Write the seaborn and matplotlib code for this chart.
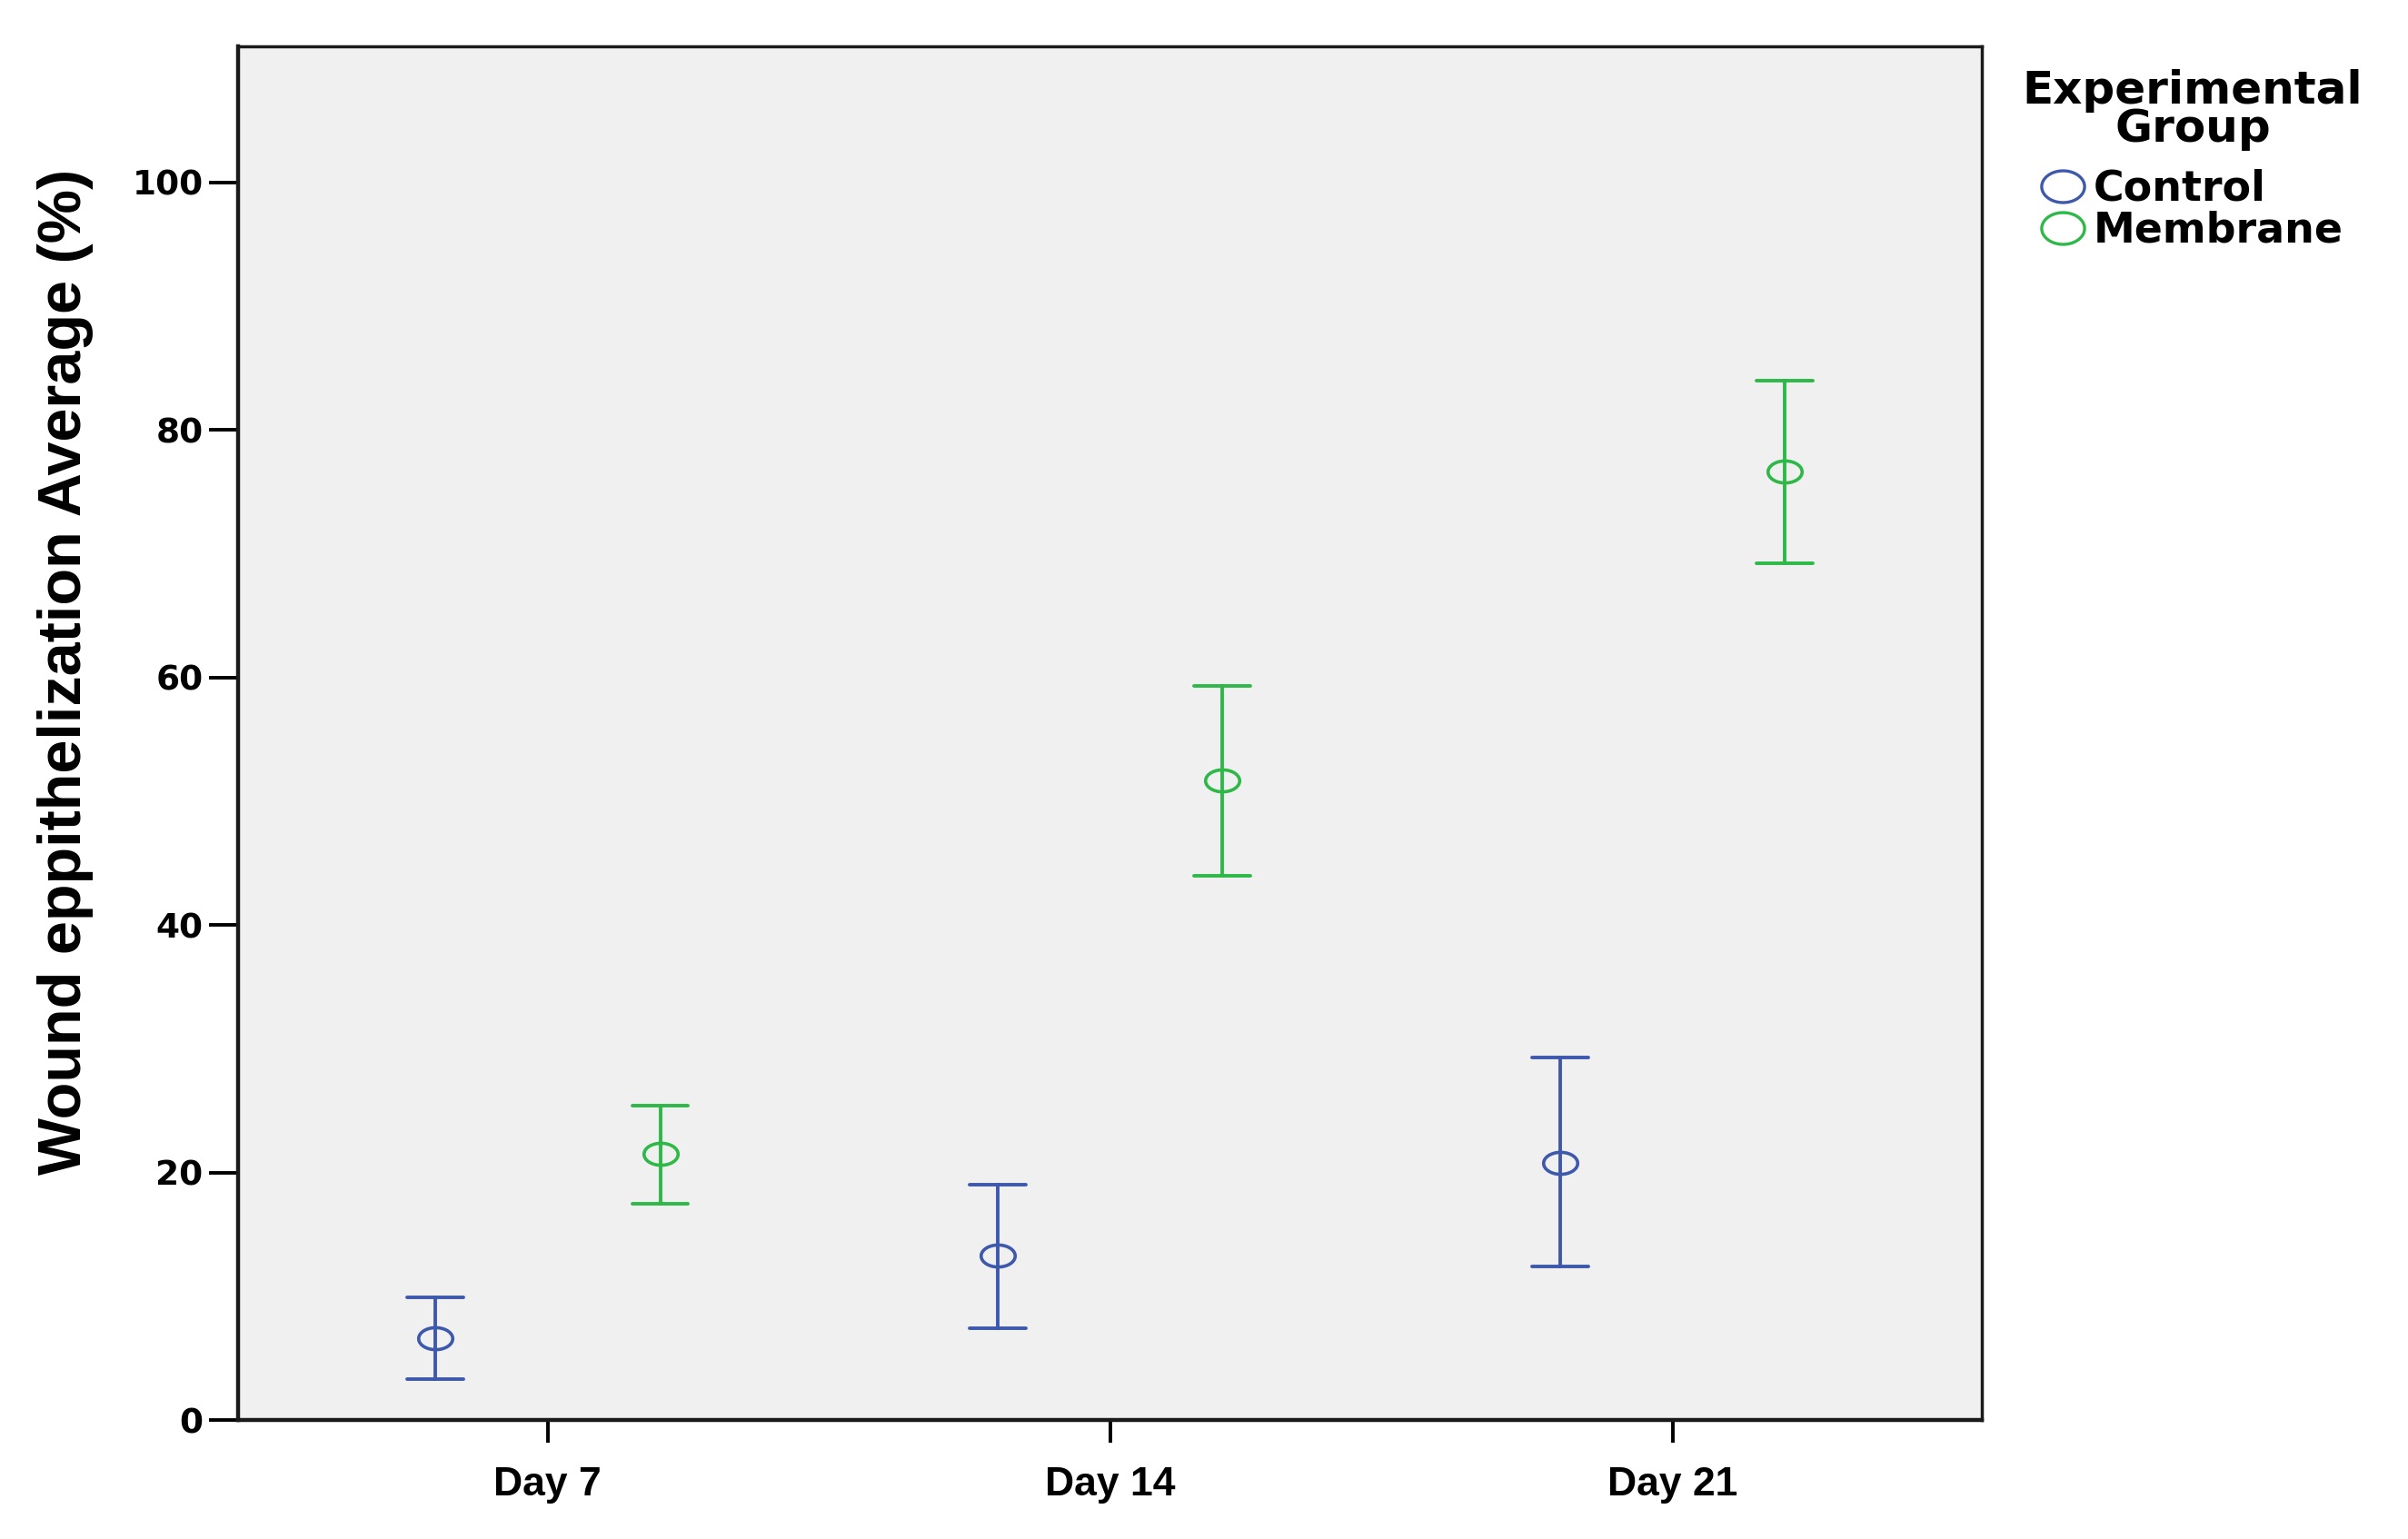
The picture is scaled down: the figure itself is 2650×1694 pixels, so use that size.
import numpy as np
import pandas as pd
import seaborn as sns
import matplotlib.pyplot as plt
from matplotlib.path import Path
from matplotlib.lines import Line2D

days = ["Day 7", "Day 14", "Day 21"]
groups = ["Control", "Membrane"]

control_mean = [6.6, 13.3, 20.8]
control_low = [3.3, 7.4, 12.4]
control_high = [9.9, 19.0, 29.3]

membrane_mean = [21.5, 51.7, 76.6]
membrane_low = [17.5, 44.0, 69.2]
membrane_high = [25.4, 59.3, 84.0]

COLORS = {"Control": "#3E58AC", "Membrane": "#2EB848"}


def ellipse_marker(ratio):
    t = np.linspace(0, 2 * np.pi, 60)
    return Path(np.column_stack([ratio * np.cos(t), np.sin(t)]), closed=True)


# long form: low / mean / high per cell, median picks the mean
rows = []
for g, m, lo, hi in [("Control", control_mean, control_low, control_high),
                     ("Membrane", membrane_mean, membrane_low, membrane_high)]:
    for d, a, b, c in zip(days, m, lo, hi):
        for v in (b, a, c):
            rows.append({"Day": d, "Group": g, "Value": v})
df = pd.DataFrame(rows)

sns.set_style("ticks")
plt.rcParams["font.family"] = ["DejaVu Sans"]
plt.rcParams["text.color"] = "black"
plt.rcParams["axes.labelcolor"] = "black"
plt.rcParams["xtick.color"] = "black"
plt.rcParams["ytick.color"] = "black"

fig = plt.figure(figsize=(26.5, 16.94), dpi=100)
ax = fig.add_axes([0.099, 0.0773, 0.724, 0.8927])
ax.set_facecolor("#F0F0F0")

sns.pointplot(
    data=df, x="Day", y="Value", hue="Group", order=days, hue_order=groups,
    estimator=np.median, errorbar=lambda v: (v.min(), v.max()),
    palette=COLORS, dodge=0.4, linestyle="none", capsize=0.1,
    err_kws={"linewidth": 2.8}, markers=ellipse_marker(1.55),
    markersize=27, markerfacecolor="none", markeredgewidth=2.6,
    legend=False, ax=ax,
)

ax.set_xlim(-0.55, 2.55)
ax.set_ylim(0, 111)
ax.set_yticks([0, 20, 40, 60, 80, 100])
ax.set_xlabel("")
ax.set_ylabel("Wound eppithelization Average (%)", fontsize=48,
              fontweight="bold", family=["Liberation Sans"])
ax.yaxis.set_label_coords(-0.083, 0.545)

for s in ax.spines.values():
    s.set_color("#1a1a1a")
    s.set_linewidth(2.5)
ax.spines["left"].set_linewidth(3.2)
ax.spines["bottom"].set_linewidth(3.2)

ax.tick_params(axis="y", length=23, width=2.8, pad=5, labelsize=27)
ax.tick_params(axis="x", length=18, width=2.8, pad=19, labelsize=32)
for lab in ax.get_yticklabels():
    lab.set_fontweight("bold")
for lab in ax.get_xticklabels():
    lab.set_fontweight("bold")
    lab.set_family(["Liberation Sans Narrow", "Liberation Sans"])

handles = [Line2D([], [], linestyle="none", marker=ellipse_marker(1.35),
                  markersize=34, markerfacecolor="none",
                  markeredgecolor=COLORS[g], markeredgewidth=2.4)
           for g in groups]
leg = fig.legend(handles, groups, title="Experimental\nGroup",
                 loc="upper left", bbox_to_anchor=(0.833, 0.966),
                 frameon=False, fontsize=33, handlelength=1.0,
                 handletextpad=0.25, labelspacing=0.02, borderaxespad=0)
title = leg.get_title()
title.set_fontsize(36)
title.set_fontweight("bold")
title.set_multialignment("center")
title.set_linespacing(0.85)
leg._legend_box.align = "center"
leg._legend_box.sep = 14
for t in leg.get_texts():
    t.set_fontweight("bold")

fig.savefig("out.png", dpi=100)
